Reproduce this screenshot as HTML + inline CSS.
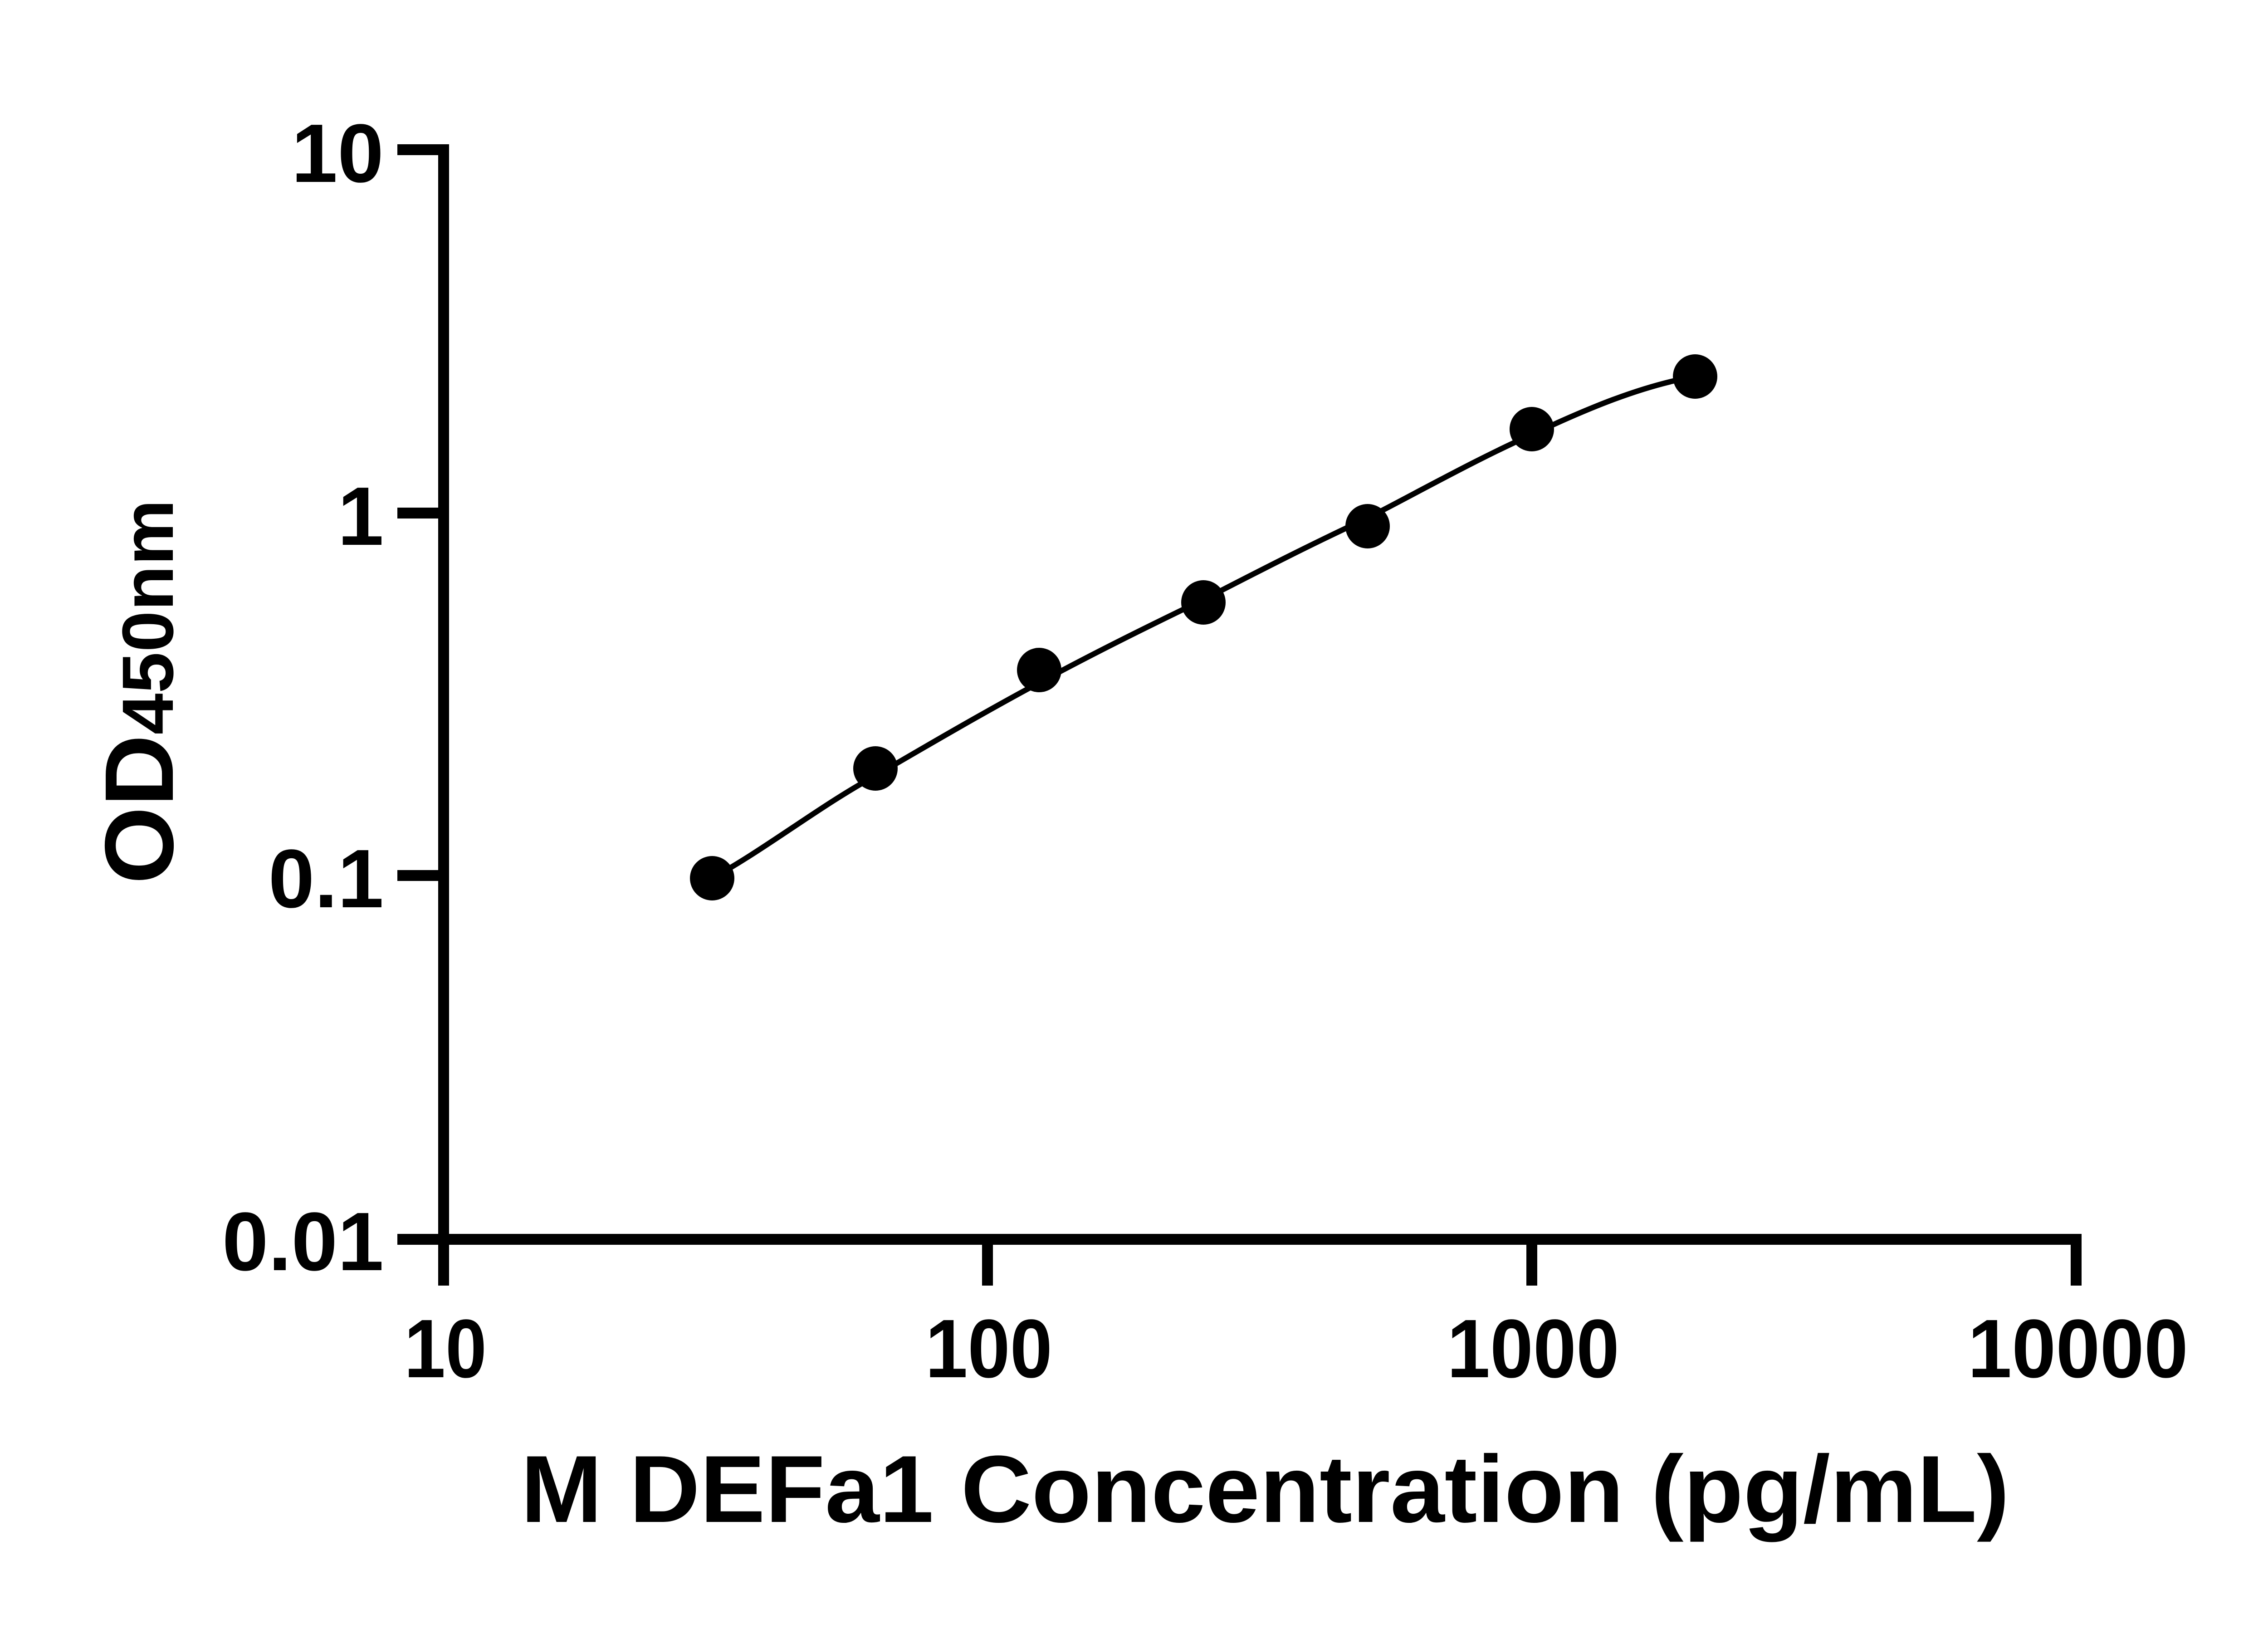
<!DOCTYPE html>
<html><head><meta charset="utf-8"><style>html,body{margin:0;padding:0;background:#fff}svg{display:block}</style></head>
<body>
<svg width="5138" height="3591" viewBox="0 0 5138 3591" xmlns="http://www.w3.org/2000/svg">
<rect width="5138" height="3591" fill="#fff"/>
<g stroke="#000" fill="none" stroke-linecap="butt">
<line x1="978" y1="318" x2="978" y2="2834" stroke-width="24"/>
<line x1="876" y1="2732" x2="4589" y2="2732" stroke-width="24"/>
<line x1="876" y1="330" x2="990" y2="330" stroke-width="24"/>
<line x1="876" y1="1131" x2="978" y2="1131" stroke-width="24"/>
<line x1="876" y1="1930" x2="978" y2="1930" stroke-width="24"/>
<line x1="876" y1="2732" x2="978" y2="2732" stroke-width="24"/>
<line x1="2177" y1="2732" x2="2177" y2="2834" stroke-width="24"/>
<line x1="3377" y1="2732" x2="3377" y2="2834" stroke-width="24"/>
<line x1="4577" y1="2720" x2="4577" y2="2834" stroke-width="24"/>
<path d="M1570,1936 C1690,1870 1810,1775 1930,1710 C2050,1640 2170,1570 2291,1505 C2411,1440 2532,1380 2653,1322 C2773,1260 2894,1198 3015,1142 C3135,1080 3256,1012 3377,958 C3500,900 3620,850 3737,830" stroke-width="12"/>
</g>
<g fill="#000">
<circle cx="1570" cy="1936" r="49"/>
<circle cx="1930" cy="1694" r="49"/>
<circle cx="2291" cy="1477" r="49"/>
<circle cx="2653" cy="1328" r="49"/>
<circle cx="3015" cy="1160" r="49"/>
<circle cx="3377" cy="946" r="49"/>
<circle cx="3737" cy="830" r="49"/>
</g>
<g font-family="'Liberation Sans', Arial, sans-serif" font-weight="bold" font-size="183" fill="#000">
<text x="846" y="401" text-anchor="end">10</text>
<text x="846" y="1201" text-anchor="end">1</text>
<text x="846" y="2000" text-anchor="end">0.1</text>
<text x="846" y="2800" text-anchor="end">0.01</text>
<text x="891" y="3036" textLength="182" lengthAdjust="spacingAndGlyphs">10</text>
<text x="2040" y="3036" textLength="280" lengthAdjust="spacingAndGlyphs">100</text>
<text x="3190" y="3036" textLength="380" lengthAdjust="spacingAndGlyphs">1000</text>
<text x="4338" y="3036" textLength="486" lengthAdjust="spacingAndGlyphs">10000</text>
<text x="1148" y="3355" font-size="210" textLength="3282" lengthAdjust="spacingAndGlyphs">M DEFa1 Concentration (pg/mL)</text>
<text transform="translate(381,1949) rotate(-90)" font-size="215" textLength="848" lengthAdjust="spacingAndGlyphs">OD<tspan font-size="160">450nm</tspan></text>
</g>
</svg>
</body></html>
